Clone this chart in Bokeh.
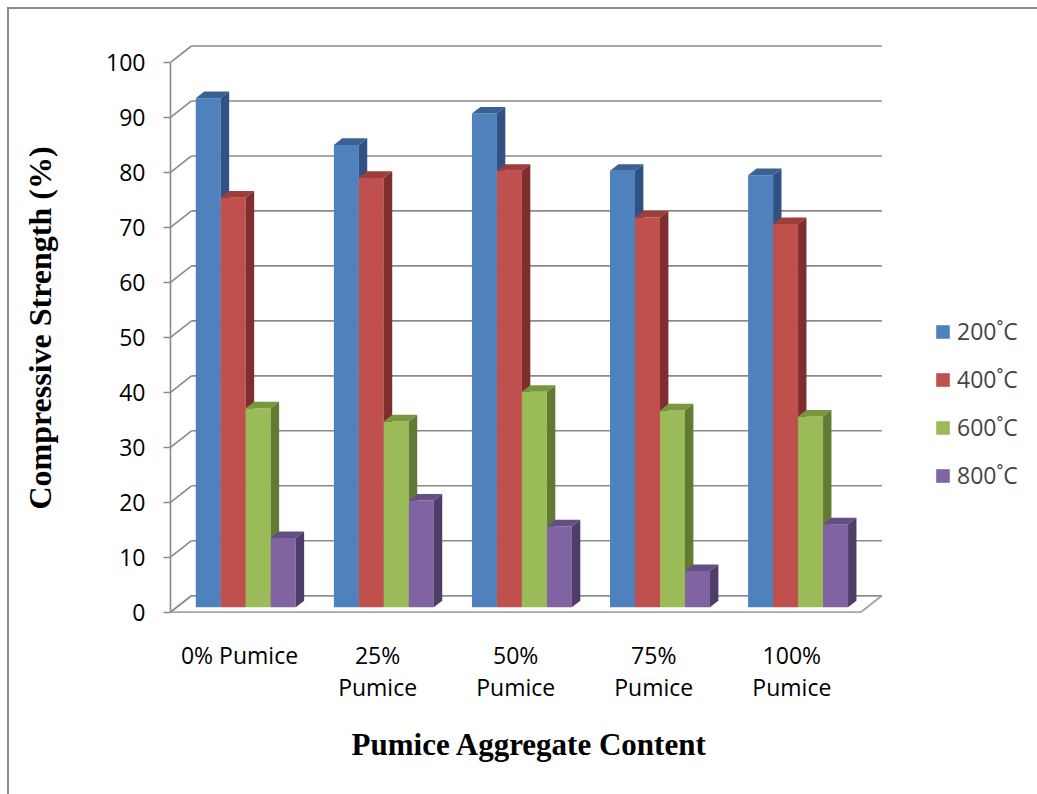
from bokeh.plotting import figure
from bokeh.models import Range1d, FixedTicker, Legend, LegendItem, ColumnDataSource
from bokeh.embed import file_html
from bokeh.resources import INLINE

# ---- data ----
categories = ["0% Pumice", "25% Pumice", "50% Pumice", "75% Pumice", "100% Pumice"]
category_labels = ["0% Pumice", "25%\nPumice", "50%\nPumice", "75%\nPumice", "100%\nPumice"]
series_names = ["200˚C", "400˚C", "600˚C", "800˚C"]
s200 = [92.6, 84.1, 89.8, 79.4, 78.6]
s400 = [74.5, 78.1, 79.4, 70.9, 69.7]
s600 = [36.2, 33.8, 39.2, 35.8, 34.7]
s800 = [12.6, 19.4, 14.7, 6.6, 15.1]
y_ticks = [0, 10, 20, 30, 40, 50, 60, 70, 80, 90, 100]

# ---- styles ----
front_colors = ["#4F81BD", "#C0504D", "#9BBB59", "#8064A2"]
top_colors = ["#3A6194", "#9E3E3B", "#7A9740", "#654D85"]
side_colors = ["#2F5282", "#7E2F2D", "#627A33", "#4F3D69"]
grid_color = "#8A8A8A"

DX, DY = 0.152, 3.0      # full depth offset (data units)
D0, D1 = 0.3, 0.7        # bar front/back depth fractions
BAR_W = 0.181
GROUP_PAD = 0.1375
N = len(categories)

p = figure(frame_width=718, frame_height=575, output_backend="svg", toolbar_location=None,
           x_range=Range1d(0, 5.2), y_range=Range1d(-0.6, 104),
           min_border_left=170, min_border_right=149, min_border_top=40, min_border_bottom=179)
p.outline_line_color = None
p.xgrid.visible = False
p.ygrid.visible = False
p.border_fill_color = None
p.background_fill_color = None
p.styles = {"background": "linear-gradient(#8A8A8A,#8A8A8A) 7px 7px / 1030px 2px no-repeat, "
                          "linear-gradient(#8A8A8A,#8A8A8A) 7px 7px / 2px 787px no-repeat, white"}

# floor
p.patch([0, N, N + DX, DX], [0, 0, DY, DY], fill_color="white", line_color="#A6A6A6", line_width=1.5)

# back wall gridlines and side-wall diagonals
gx0, gy0, gx1, gy1 = [], [], [], []
for t in y_ticks:
    gx0 += [0, DX]; gy0 += [t, t + DY]
    gx1 += [DX, N + DX]; gy1 += [t + DY, t + DY]
p.segment(x0=gx0, y0=gy0, x1=gx1, y1=gy1, line_color=grid_color, line_width=1.6)

ox0, oy0 = D0 * DX, D0 * DY
ox1, oy1 = D1 * DX, D1 * DY

series = [s200, s400, s600, s800]
items = []
for k, vals in enumerate(series):
    lefts = [i + GROUP_PAD + k * BAR_W + ox0 for i in range(N)]
    rights = [l + BAR_W for l in lefts]
    tops = [v + oy0 for v in vals]
    src = ColumnDataSource(dict(left=lefts, right=rights, bottom=[oy0] * N, top=tops))
    r = p.quad(left="left", right="right", bottom="bottom", top="top", source=src,
               fill_color=front_colors[k], line_color=None)
    items.append(LegendItem(label=series_names[k], renderers=[r]))
    txs, tys, sxs, sys_ = [], [], [], []
    dxx, dyy = ox1 - ox0, oy1 - oy0
    for l, rr, tp in zip(lefts, rights, tops):
        txs.append([l, rr, rr + dxx, l + dxx]); tys.append([tp, tp, tp + dyy, tp + dyy])
        sxs.append([rr, rr + dxx, rr + dxx, rr]); sys_.append([oy0, oy0 + dyy, tp + dyy, tp])
    p.patches(txs, tys, fill_color=top_colors[k], line_color=None)
    p.patches(sxs, sys_, fill_color=side_colors[k], line_color=None)

# front floor edges
p.segment(x0=[0, N], y0=[0, 0], x1=[N, N + DX], y1=[0, DY], line_color="#A6A6A6", line_width=1.6)

# y axis
ya = p.yaxis[0]
ya.ticker = FixedTicker(ticks=y_ticks)
ya.bounds = (0, 100)
ya.axis_line_color = grid_color
ya.axis_line_width = 1.6
ya.major_tick_line_color = grid_color
ya.major_tick_line_width = 1.6
ya.major_tick_out = 7
ya.major_tick_in = 0
ya.minor_tick_line_color = None
ya.major_label_text_font = "Open Sans"
ya.major_label_text_font_size = "23px"
ya.major_label_text_color = "black"
ya.major_label_standoff = 18
ya.axis_label = "Compressive Strength (%)"
ya.axis_label_text_font = "Liberation Serif"
ya.axis_label_text_font_style = "bold"
ya.axis_label_text_font_size = "32px"
ya.axis_label_text_color = "black"
ya.axis_label_standoff = 45

# x axis
xa = p.xaxis[0]
tick_pos = [i + 0.5 for i in range(N)]
xa.ticker = FixedTicker(ticks=tick_pos)
xa.major_label_overrides = {t: lab for t, lab in zip(tick_pos, category_labels)}
xa.axis_line_color = None
xa.major_tick_line_color = None
xa.minor_tick_line_color = None
xa.major_label_text_font = "Open Sans"
xa.major_label_text_font_size = "23px"
xa.major_label_text_color = "black"
xa.major_label_text_line_height = 1.0
xa.major_label_standoff = 17
xa.axis_label = "Pumice Aggregate Content"
xa.axis_label_text_font = "Liberation Serif"
xa.axis_label_text_font_style = "bold"
xa.axis_label_text_font_size = "31px"
xa.axis_label_text_color = "black"
xa.axis_label_standoff = 21

legend = Legend(items=items, location=(46, 124), border_line_color=None,
                background_fill_alpha=0, padding=0, margin=0, spacing=16,
                glyph_width=17, glyph_height=17, label_standoff=6, label_height=22,
                label_text_font="Open Sans", label_text_font_size="23px")
p.add_layout(legend, "right")

open("out.html", "w").write(file_html(p, INLINE))
